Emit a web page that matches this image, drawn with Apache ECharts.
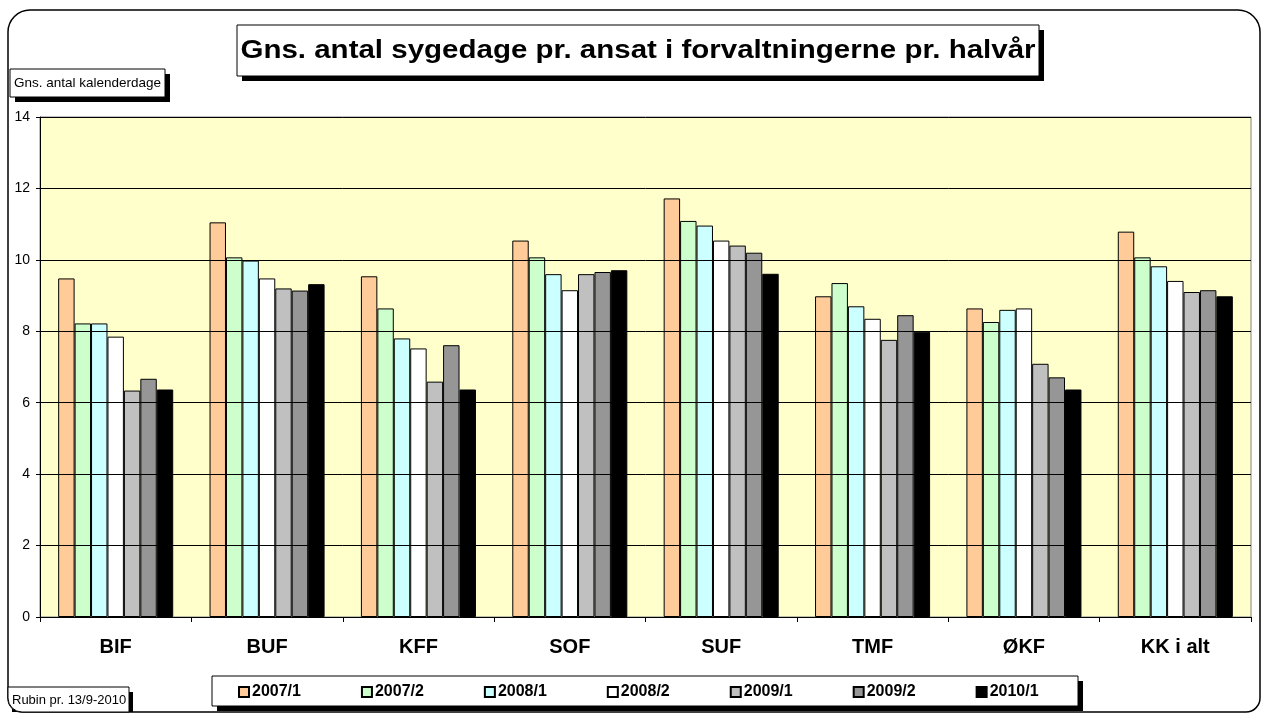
<!DOCTYPE html>
<html>
<head>
<meta charset="utf-8">
<script src="https://cdn.jsdelivr.net/npm/echarts@6/dist/echarts.min.js"></script>
<style>
html,body{margin:0;padding:0;background:#fff;}
#c{width:1262px;height:715px;}
</style>
</head>
<body>
<div id="c"></div>
<script>
const categories = ['BIF','BUF','KFF','SOF','SUF','TMF','ØKF','KK i alt'];
const seriesNames = ['2007/1','2007/2','2008/1','2008/2','2009/1','2009/2','2010/1'];
const s2007_1 = [9.48, 11.05, 9.54, 10.54, 11.72, 8.98, 8.64, 10.79];
const s2007_2 = [8.22, 10.07, 8.64, 10.07, 11.09, 9.35, 8.26, 10.07];
const s2008_1 = [8.22, 9.98, 7.80, 9.60, 10.96, 8.70, 8.60, 9.82];
const s2008_2 = [7.85, 9.48, 7.52, 9.15, 10.54, 8.35, 8.64, 9.41];
const s2009_1 = [6.34, 9.20, 6.59, 9.60, 10.40, 7.76, 7.09, 9.10];
const s2009_2 = [6.67, 9.14, 7.61, 9.66, 10.20, 8.45, 6.71, 9.15];
const s2010_1 = [6.37, 9.32, 6.37, 9.71, 9.61, 7.99, 6.37, 8.98];
const yTicks = [0, 2, 4, 6, 8, 10, 12, 14];
const allData = [s2007_1, s2007_2, s2008_1, s2008_2, s2009_1, s2009_2, s2010_1];
const colors = ['#FFCC99','#CCFFCC','#CCFFFF','#FFFFFF','#C0C0C0','#969696','#000000'];

const chart = echarts.init(document.getElementById('c'), null, {renderer:'canvas'});
const font = 'Arial, "Liberation Sans", sans-serif';

function shadowBox(x, y, w, h, z) {
  return [
    {type:'rect', z: z, silent:true, shape:{x:x+5, y:y+5, width:w, height:h}, style:{fill:'#000'}},
    {type:'rect', z: z+1, silent:true, shape:{x:x, y:y, width:w, height:h}, style:{fill:'#fff', stroke:'#000', lineWidth:1}}
  ];
}

const graphics = [
  {type:'rect', z:0, silent:true, shape:{x:8, y:10, width:1252, height:702, r:[22,22,14,14]}, style:{fill:'#fff', stroke:'#000', lineWidth:1.5}},
  ...shadowBox(237, 25, 802, 51, 10),
  {type:'text', z:12, silent:true, x:638, y:51, scaleX:1.18, style:{text:'Gns. antal sygedage pr. ansat i forvaltningerne pr. halvår', font:'bold 25px ' + font, fill:'#000', align:'center', verticalAlign:'middle'}},
  ...shadowBox(10, 69, 155, 28, 10),
  {type:'text', z:12, silent:true, x:14, y:83, style:{text:'Gns. antal kalenderdage', font:'13.5px ' + font, fill:'#000', align:'left', verticalAlign:'middle'}},
  ...shadowBox(212, 676, 866, 30, 10),
  {type:'rect', z:10, silent:true, shape:{x:12, y:692, width:121, height:20}, style:{fill:'#000'}},
  {type:'rect', z:11, silent:true, shape:{x:8, y:687, width:121, height:25, r:[0,0,0,14]}, style:{fill:'#fff', stroke:'#000', lineWidth:1}},
  {type:'text', z:12, silent:true, x:12, y:700, style:{text:'Rubin pr. 13/9-2010', font:'13px ' + font, fill:'#000', align:'left', verticalAlign:'middle'}}
];

chart.setOption({
  animation:false,
  backgroundColor:'#fff',
  textStyle:{fontFamily:font},
  graphic: graphics,
  legend:{
    data: seriesNames,
    left: 238, top: 684, padding:0,
    itemWidth:10, itemHeight:10, itemGap:60,
    icon:'rect',
    z: 20,
    textStyle:{fontFamily:font, fontSize:16, fontWeight:'bold', color:'#000', padding:[0,0,0,-2]}
  },
  grid:{left:40, top:117, right:11, bottom:98, show:true, backgroundColor:'#FFFFCC', borderColor:'#808080', borderWidth:1, z:3},
  xAxis:{
    type:'category',
    data: categories,
    z: 5,
    axisLine:{show:true, lineStyle:{color:'#000', width:1}},
    axisTick:{show:true, alignWithLabel:false, length:5, lineStyle:{color:'#000'}},
    axisLabel:{fontFamily:font, fontSize:20, fontWeight:'bold', color:'#000', margin:20},
    splitLine:{show:false}
  },
  yAxis:{
    type:'value', min:0, max:14, interval:2,
    z: 5,
    axisLine:{show:true, lineStyle:{color:'#000', width:1}},
    axisTick:{show:true, length:4, lineStyle:{color:'#000'}},
    axisLabel:{fontFamily:font, fontSize:14, color:'#000', margin:10,
      formatter: v => yTicks.includes(v) ? String(v) : ''},
    splitLine:{show:true, lineStyle:{color:'#000', width:1}}
  },
  series: seriesNames.map((n, i) => ({
    name:n, type:'bar', data: allData[i],
    barGap:'0%', barCategoryGap:'24%',
    z: 4,
    itemStyle:{color:colors[i], borderColor:'#000', borderWidth:1}
  }))
});
</script>
</body>
</html>
